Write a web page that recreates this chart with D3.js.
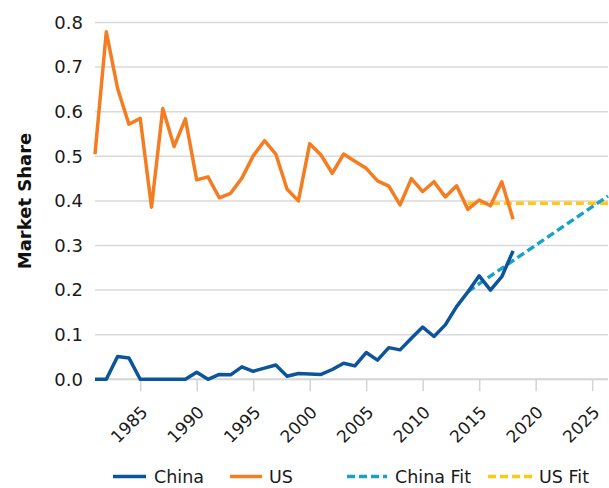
<!DOCTYPE html>
<html>
<head>
<meta charset="utf-8">
<script src="https://cdn.jsdelivr.net/npm/d3@7"></script>
<style>
  html, body { margin: 0; padding: 0; background: #fff; }
  svg { display: block; font-family: "DejaVu Sans", sans-serif; }
</style>
</head>
<body>
<svg id="chart" width="609" height="488"></svg>
<script>
// ---- Data ----
const years = d3.range(1981, 2019);
const chinaShare = [0.000, 0.000, 0.051, 0.048, 0.000, 0.000, 0.000, 0.000, 0.000, 0.016,
                    0.000, 0.011, 0.010, 0.028, 0.018, 0.025, 0.032, 0.007, 0.013, 0.012,
                    0.011, 0.022, 0.036, 0.030, 0.060, 0.043, 0.071, 0.066, 0.092, 0.117,
                    0.096, 0.122, 0.163, 0.196, 0.232, 0.200, 0.230, 0.288];
const usShare = [0.505, 0.779, 0.652, 0.572, 0.585, 0.386, 0.607, 0.522, 0.584, 0.447,
                 0.454, 0.407, 0.417, 0.451, 0.501, 0.535, 0.505, 0.426, 0.400, 0.528,
                 0.503, 0.462, 0.505, 0.489, 0.473, 0.445, 0.433, 0.391, 0.450, 0.421,
                 0.443, 0.409, 0.434, 0.381, 0.402, 0.389, 0.443, 0.359];
const fitYears = [2014, 2026.4];
const chinaFit = [0.197, 0.411];
const usFit = [0.395, 0.395];
const xTicks = [1985, 1990, 1995, 2000, 2005, 2010, 2015, 2020, 2025];
const yTicks = [0.0, 0.1, 0.2, 0.3, 0.4, 0.5, 0.6, 0.7, 0.8];
const seriesNames = ["China", "US", "China Fit", "US Fit"];
const colors = { "China": "#0c559b", "US": "#f57c20", "China Fit": "#17a3c9", "US Fit": "#ffc815" };

// ---- Layout ----
const svg = d3.select("#chart");
const x = d3.scaleLinear().domain([1981, 2026.4]).range([95, 608]);
const y = d3.scaleLinear().domain([0, 0.8]).range([379.3, 22.5]);

// gridlines
svg.append("g")
  .selectAll("line")
  .data(yTicks.filter(d => d > 0))
  .join("line")
  .attr("x1", 95).attr("x2", 608)
  .attr("y1", d => y(d)).attr("y2", d => y(d))
  .attr("stroke", "#d9d9d9").attr("stroke-width", 1.5);

// y axis labels
const yAxis = d3.axisLeft(y).tickValues(yTicks).tickFormat(d3.format(".1f")).tickSize(0).tickPadding(12);
const yg = svg.append("g").attr("transform", "translate(95,0)").call(yAxis);
yg.select(".domain").remove();
yg.selectAll("text").attr("font-size", 18).attr("fill", "#1a1a1a")
  .attr("font-family", "DejaVu Sans, sans-serif");

// x axis
const xAxis = d3.axisBottom(x).tickValues(xTicks).tickFormat(d3.format("d")).tickSize(12).tickPadding(0);
const xg = svg.append("g").attr("transform", `translate(0,${y(0)})`).call(xAxis);
xg.select(".domain").remove();
xg.selectAll(".tick line").attr("stroke", "#d4d4d4").attr("stroke-width", 1.5);
xg.selectAll(".tick text")
  .attr("font-size", 17).attr("fill", "#1a1a1a")
  .attr("font-family", "DejaVu Sans, sans-serif")
  .attr("text-anchor", "end")
  .attr("dy", null).attr("y", null)
  .attr("transform", "translate(8,34) rotate(-45)");
svg.append("line")
  .attr("x1", 95).attr("x2", 608).attr("y1", y(0)).attr("y2", y(0))
  .attr("stroke", "#d4d4d4").attr("stroke-width", 2);

// lines
const line = d3.line().x(d => x(d[0])).y(d => y(d[1]));
svg.append("path")
  .datum(d3.zip(fitYears, usFit))
  .attr("d", line).attr("fill", "none")
  .attr("stroke", colors["US Fit"]).attr("stroke-width", 3.5)
  .attr("stroke-dasharray", "8,4");
svg.append("path")
  .datum(d3.zip(fitYears, chinaFit))
  .attr("d", line).attr("fill", "none")
  .attr("stroke", colors["China Fit"]).attr("stroke-width", 3.5)
  .attr("stroke-dasharray", "8,4");
svg.append("path")
  .datum(d3.zip(years, chinaShare))
  .attr("d", line).attr("fill", "none")
  .attr("stroke", colors["China"]).attr("stroke-width", 3.5)
  .attr("stroke-linejoin", "round");
svg.append("path")
  .datum(d3.zip(years, usShare))
  .attr("d", line).attr("fill", "none")
  .attr("stroke", colors["US"]).attr("stroke-width", 3.5)
  .attr("stroke-linejoin", "round");

// y title
svg.append("text")
  .attr("transform", "translate(24,201) rotate(-90)")
  .attr("text-anchor", "middle").attr("dominant-baseline", "central")
  .attr("font-size", 18).attr("font-weight", "bold").attr("fill", "#111")
  .text("Market Share");

// legend
const legendPos = [
  { name: "China", x1: 113, x2: 146, tx: 154, dash: null },
  { name: "US", x1: 230, x2: 262, tx: 269, dash: null },
  { name: "China Fit", x1: 347, x2: 387, tx: 395, dash: "8,4" },
  { name: "US Fit", x1: 488, x2: 533, tx: 539, dash: "8,4" }
];
const lg = svg.append("g");
legendPos.forEach(p => {
  lg.append("line").attr("x1", p.x1).attr("x2", p.x2).attr("y1", 476.5).attr("y2", 476.5)
    .attr("stroke", colors[p.name]).attr("stroke-width", 3.5)
    .attr("stroke-dasharray", p.dash);
  lg.append("text").attr("x", p.tx).attr("y", 476.5).attr("dy", "0.36em")
    .attr("font-size", 17.5).attr("fill", "#1a1a1a").text(p.name);
});
</script>
</body>
</html>
